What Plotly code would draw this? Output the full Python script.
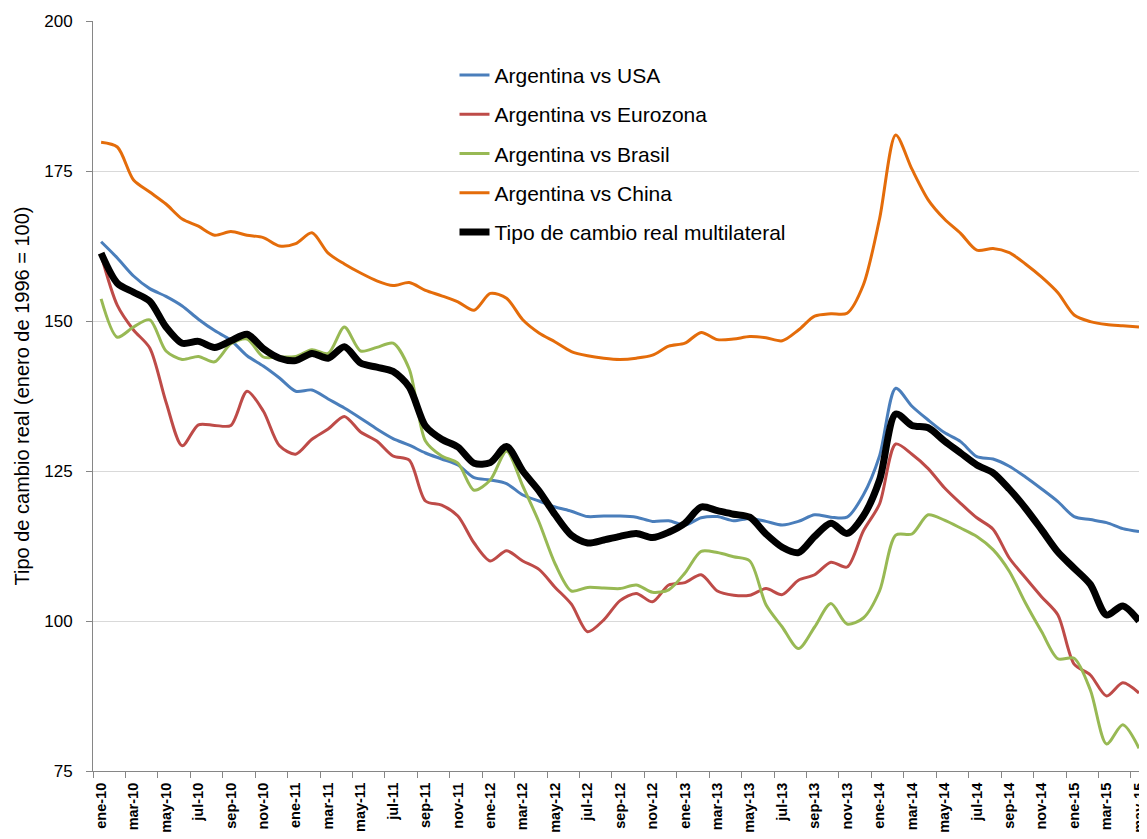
import plotly.graph_objects as go

month_names = ["ene", "feb", "mar", "abr", "may", "jun", "jul", "ago", "sep", "oct", "nov", "dic"]
months = [f"{month_names[i % 12]}-{10 + i // 12}" for i in range(65)]

usa = [163.2, 160.5, 157.5, 155.4, 154.1, 152.5, 150.3, 148.4, 146.8, 144.2,
       142.5, 140.5, 138.3, 138.5, 137.0, 135.5, 133.8, 132.0, 130.4, 129.3,
       128.0, 127.0, 126.0, 123.9, 123.5, 122.9, 121.0, 120.0, 119.0, 118.3,
       117.4, 117.5, 117.5, 117.3, 116.6, 116.7, 116.0, 117.2, 117.4, 116.7,
       117.1, 116.6, 116.0, 116.6, 117.7, 117.3, 117.3, 121.0, 127.5, 138.8,
       135.8, 133.5, 131.4, 129.9, 127.4, 127.0, 125.8, 124.0, 122.0, 119.9,
       117.4, 116.9, 116.4, 115.4, 114.9]

eurozona = [161.0, 152.6, 148.5, 145.5, 136.5, 129.2, 132.7, 132.6, 132.6, 138.3,
            135.0, 129.2, 127.8, 130.3, 132.0, 134.1, 131.5, 130.0, 127.5, 126.8,
            120.0, 119.3, 117.5, 113.0, 110.0, 111.7, 110.0, 108.6, 105.6, 102.8,
            98.2, 100.2, 103.4, 104.6, 103.2, 106.0, 106.4, 107.7, 105.0, 104.3,
            104.3, 105.4, 104.4, 106.8, 107.7, 109.8, 109.0, 115.0, 119.5, 129.5,
            127.8, 125.4, 122.2, 119.6, 117.2, 115.3, 110.5, 107.2, 104.0, 101.0,
            92.8, 91.0, 87.5, 89.7, 88.0]

brasil = [153.7, 147.3, 149.0, 150.2, 145.0, 143.6, 144.1, 143.2, 146.2, 147.0,
          144.0, 144.0, 144.1, 145.2, 144.6, 149.0, 145.0, 145.6, 146.3, 142.0,
          130.0, 127.5, 126.3, 121.8, 123.5, 128.3, 122.5, 116.5, 109.5, 105.0,
          105.6, 105.5, 105.4, 106.0, 104.8, 105.2, 108.0, 111.6, 111.4, 110.7,
          110.0, 102.7, 99.0, 95.4, 99.0, 102.9, 99.5, 100.5, 105.0, 114.3,
          114.5, 117.7, 116.8, 115.5, 114.1, 111.9, 108.3, 103.0, 98.2, 93.7,
          93.8, 88.5, 79.5, 82.7, 78.8]

china = [179.8, 179.0, 173.5, 171.5, 169.5, 167.0, 165.8, 164.3, 164.9, 164.3,
         163.9, 162.5, 162.9, 164.7, 161.3, 159.5, 158.0, 156.7, 155.9, 156.4,
         155.1, 154.2, 153.2, 151.8, 154.6, 153.8, 150.2, 148.0, 146.5, 144.9,
         144.2, 143.8, 143.6, 143.8, 144.3, 145.8, 146.3, 148.1, 146.9, 147.0,
         147.4, 147.2, 146.7, 148.5, 150.8, 151.2, 151.3, 156.0, 167.0, 181.0,
         175.3, 170.2, 167.0, 164.6, 161.8, 162.1, 161.4, 159.5, 157.3, 154.7,
         151.0, 149.9, 149.4, 149.2, 149.0]

multilateral = [161.3, 156.3, 154.8, 153.3, 149.0, 146.3, 146.6, 145.6, 146.7, 147.8,
                145.4, 143.8, 143.4, 144.6, 143.8, 145.7, 143.0, 142.3, 141.6, 139.0,
                132.5, 130.3, 129.0, 126.3, 126.4, 129.1, 125.0, 121.7, 117.7, 114.3,
                113.0, 113.5, 114.1, 114.6, 113.9, 114.8, 116.3, 119.0, 118.4, 117.8,
                117.3, 114.5, 112.3, 111.4, 114.1, 116.3, 114.6, 117.5, 123.5, 134.5,
                132.6, 132.2, 130.0, 128.0, 126.0, 124.7, 122.0, 118.8, 115.2, 111.5,
                108.8, 106.1, 101.0, 102.5, 100.0]

series = [
    ("Argentina vs USA", usa, "#4A7EBB", 3),
    ("Argentina vs Eurozona", eurozona, "#BE4B48", 3),
    ("Argentina vs Brasil", brasil, "#98B954", 3),
    ("Argentina vs China", china, "#E46C0A", 3),
    ("Tipo de cambio real multilateral", multilateral, "#000000", 7),
]

FONT = "Liberation Sans, Arial, sans-serif"

fig = go.Figure()
for i, (name, vals, color, w) in enumerate(series):
    fig.add_trace(go.Scatter(
        x=months, y=vals, name=name, mode="lines",
        line=dict(color=color, width=w, shape="spline", smoothing=0.8),
        legendgroup=f"g{i}",
    ))

fig.update_layout(
    width=1139, height=831,
    margin=dict(l=85.4, r=0, t=13, b=68),
    paper_bgcolor="white", plot_bgcolor="white",
    font=dict(family=FONT, color="#000000"),
    showlegend=True,
    legend=dict(
        x=0.3456, xanchor="left", y=0.955, yanchor="top",
        font=dict(family=FONT, size=21, color="#000000"),
        bgcolor="rgba(0,0,0,0)", tracegroupgap=9,
        itemwidth=30,
    ),
    xaxis=dict(
        type="category", range=[-0.5, 64],
        tickmode="linear", tick0=0, dtick=2,
        tickson="boundaries",
        ticks="outside", ticklen=6, tickcolor="#868686", tickwidth=1,
        showline=True, linecolor="#868686", linewidth=1,
        showgrid=False, zeroline=False,
        tickangle=-90,
        tickfont=dict(family=FONT, size=14.5, color="#000000", weight="bold"),
        ticklabelstandoff=5,
    ),
    yaxis=dict(
        range=[75, 200], tickmode="linear", tick0=75, dtick=25,
        ticks="outside", ticklen=6, tickcolor="#868686", tickwidth=1,
        showline=True, linecolor="#868686", linewidth=1,
        showgrid=True, gridcolor="#D9D9D9", gridwidth=1,
        zeroline=False,
        tickfont=dict(family=FONT, size=17, color="#000000"),
        ticklabelstandoff=10,
        title=dict(text="Tipo de cambio real (enero de 1996 = 100)",
                   font=dict(family=FONT, size=20, color="#000000"),
                   standoff=9),
    ),
)

fig.write_html("out.html")
